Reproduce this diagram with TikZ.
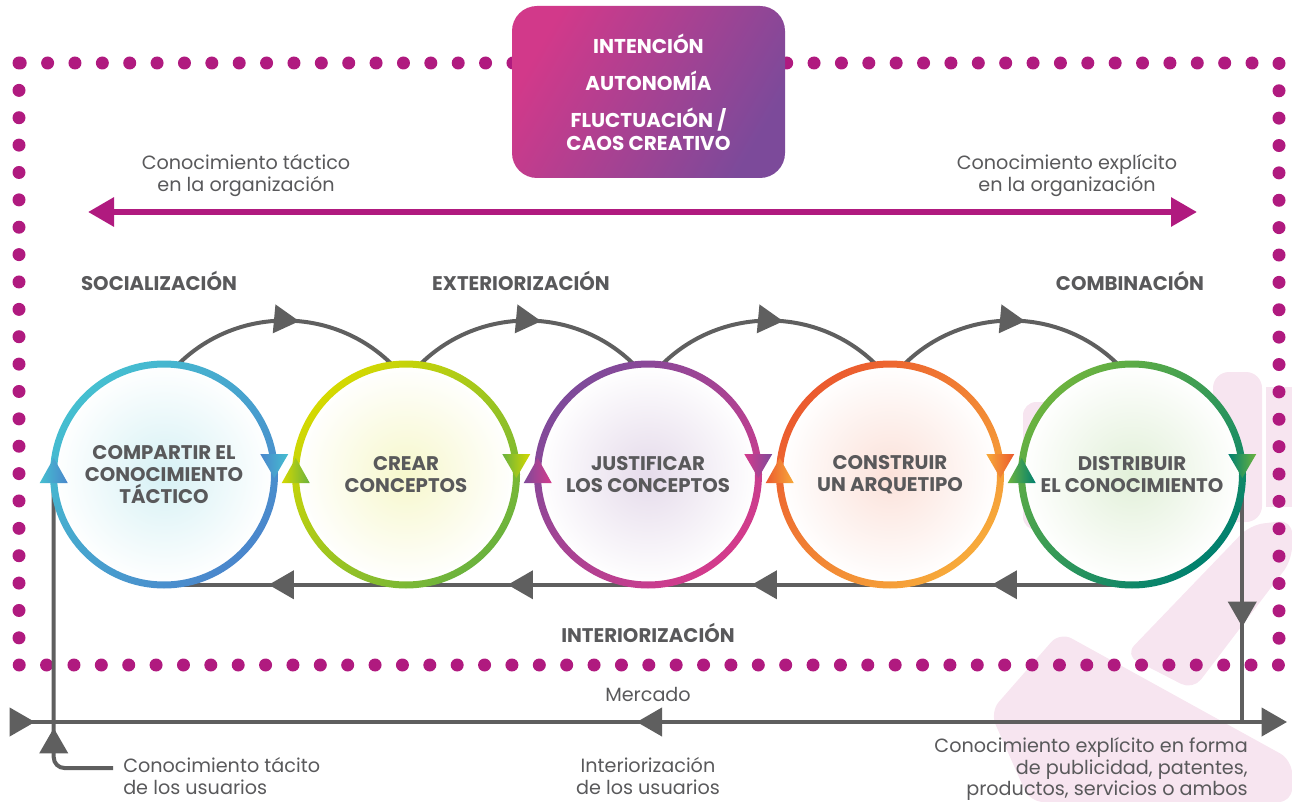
\documentclass[tikz,border=0pt]{standalone}
\usepackage{fontspec}
\setmainfont{Poppins}
\usetikzlibrary{arrows.meta,decorations.markings}

\definecolor{plum}{HTML}{B01A7F}
\definecolor{wire}{HTML}{5F5F5F}
\definecolor{ink}{HTML}{59595B}
\definecolor{boxL}{HTML}{D2398A}
\definecolor{boxR}{HTML}{7C4A9A}
\definecolor{blush}{HTML}{F7E5F0}
\definecolor{aquaA}{HTML}{45BFD0}
\definecolor{aquaB}{HTML}{4A86CC}
\definecolor{limeA}{HTML}{D5D900}
\definecolor{limeB}{HTML}{6AB23E}
\definecolor{violA}{HTML}{7E4A9A}
\definecolor{violB}{HTML}{D43B8C}
\definecolor{fireA}{HTML}{EB5A2E}
\definecolor{fireB}{HTML}{F7AA3A}
\definecolor{leafA}{HTML}{6CB33F}
\definecolor{leafB}{HTML}{00806F}

\begin{document}
\begin{tikzpicture}[x=0.75pt,y=0.75pt,
    tri/.tip={Triangle[length=19pt,width=21pt]},
    flow/.style={color=wire,line width=3pt},
    tipat/.style={postaction={decorate,decoration={markings,mark=at position #1 with {\arrow{tri}}}}},
    tipback/.style={postaction={decorate,decoration={markings,mark=at position #1 with {\arrowreversed{tri}}}}},
    dotrow/.style={draw=plum,line width=9.75pt,line cap=round,dash pattern=on 0pt off 20.53pt},
    note/.style={text=ink,font=\fontsize{14.4}{16.5}\selectfont,align=center,inner sep=0pt},
    phase/.style={text=ink,font=\bfseries\fontsize{14.8}{16}\selectfont,inner sep=0pt},
    stage/.style={circle,minimum size=165pt,inner sep=0pt,text=ink,align=center,
      font=\bfseries\fontsize{14.8}{16.8}\selectfont,shading=radial,inner color=#1,outer color=white}]
  \useasboundingbox (0,0) rectangle (1292,-802);
  \fill[blush,rounded corners=12pt] (1213,-372) rectangle (1262,-522);
  \fill[blush] (1266,-387) rectangle (1292,-507);
  \fill[blush,rounded corners=10pt] (1023,-402) rectangle (1200,-530);
  \fill[blush,rounded corners=10pt] (1125,-655) -- (1193,-690) -- (1292,-560) -- (1292,-520) -- (1250,-525) -- cycle;
  \fill[blush,rounded corners=10pt] (990,-712) -- (1060,-632) -- (1292,-760) -- (1292,-802) -- (1030,-802) -- cycle;
  \draw[dotrow] (19,-63) rectangle (1279,-665);
  \node[rounded corners=18.75pt,minimum width=204.75pt,minimum height=129pt,top color=boxL,bottom color=boxR,shading angle=60,
    text=white,align=center,font=\bfseries\fontsize{15}{17.25}\selectfont] (aims) at (648.5,-92)
    {INTENCIÓN\\[10.5pt] AUTONOMÍA\\[10.5pt] FLUCTUACIÓN /\\ CAOS CREATIVO};
  \node[note] (tactL) at (246,-176) {Conocimiento táctico\\en la organización};
  \node[note] (explR) at (1067,-176) {Conocimiento explícito\\en la organización};
  \coordinate (orgL) at (88,-212);
  \coordinate (orgR) at (1197,-212);
  \draw[draw=plum,line width=4.5pt,{Triangle[length=19.5pt,width=21pt]}-{Triangle[length=19.5pt,width=21pt]}] (orgL) -- (orgR);
  \node[phase] (soc) at (159,-281) {SOCIALIZACIÓN};
  \node[phase] (ext) at (521,-281) {EXTERIORIZACIÓN};
  \node[phase] (comb) at (1130,-281) {COMBINACIÓN};
  \node[phase] (inter) at (648,-633) {INTERIORIZACIÓN};
  \node[stage=aquaA!22] (c1) at (164,-474.5) {COMPARTIR EL\\CONOCIMIENTO\\TÁCTICO};
  \node[stage=limeA!20] (c2) at (406,-474.5) {CREAR\\CONCEPTOS};
  \node[stage=violA!20] (c3) at (648,-474.5) {JUSTIFICAR\\LOS CONCEPTOS};
  \node[stage=fireA!18] (c4) at (890,-474.5) {CONSTRUIR\\UN ARQUETIPO};
  \node[stage=leafA!20] (c5) at (1132,-474.5) {DISTRIBUIR\\EL CONOCIMIENTO};
  \node[note] (mercado) at (648,-694) {Mercado};
  \node[note,anchor=west,align=left] (tacUs) at (123,-776) {Conocimiento tácito\\de los usuarios};
  \node[note] (interUs) at (648,-776) {Interiorización\\de los usuarios};
  \node[note,anchor=east,align=right,font=\fontsize{14.4}{16}\selectfont] (explUs) at (1248,-769) {Conocimiento explícito en forma\\de publicidad, patentes,\\productos, servicios o ambos};
  \coordinate (mL) at (10,-722);
  \coordinate (mR) at (1287,-722);
  \coordinate (tk) at (113,-768);
  \draw[flow,tipat=0.56] (c1.83) to[out=45,in=135] (c2.97);
  \draw[flow,tipat=0.56] (c2.83) to[out=45,in=135] (c3.97);
  \draw[flow,tipat=0.56] (c3.83) to[out=45,in=135] (c4.97);
  \draw[flow,tipat=0.56] (c4.83) to[out=45,in=135] (c5.97);
  \draw[flow,tipat=0.145,tipat=0.393,tipat=0.645,tipat=0.892] (c5.south) -- (c1.south);
  \draw[flow,tipat=0.616] (c5.east) -- (c5.east |- mR);
  \draw[flow,rounded corners=8pt,tipat=71pt] (tk) -| (c1.west);
  \draw[flow,-tri,tipat=18.75pt,tipback=470pt] (mL) -- (mR);
  \foreach \n/\ca/\cb in {c1/aquaA/aquaB,c2/limeA/limeB,c3/violA/violB,c4/fireA/fireB,c5/leafA/leafB}{
    \shade[even odd rule,top color=\ca,bottom color=\cb,shading angle=45] (\n.center) circle[radius=114] (\n.center) circle[radius=107];
    \shade[left color=\ca,right color=\cb] ([shift={(-14,-8.5)}]\n.west) -- ([shift={(14,-8.5)}]\n.west) -- ([shift={(0,16.5)}]\n.west) -- cycle;
    \shade[left color=\cb,right color=\ca] ([shift={(-14,20.5)}]\n.east) -- ([shift={(14,20.5)}]\n.east) -- ([shift={(0,-3.5)}]\n.east) -- cycle;
  }
\end{tikzpicture}
\end{document}
